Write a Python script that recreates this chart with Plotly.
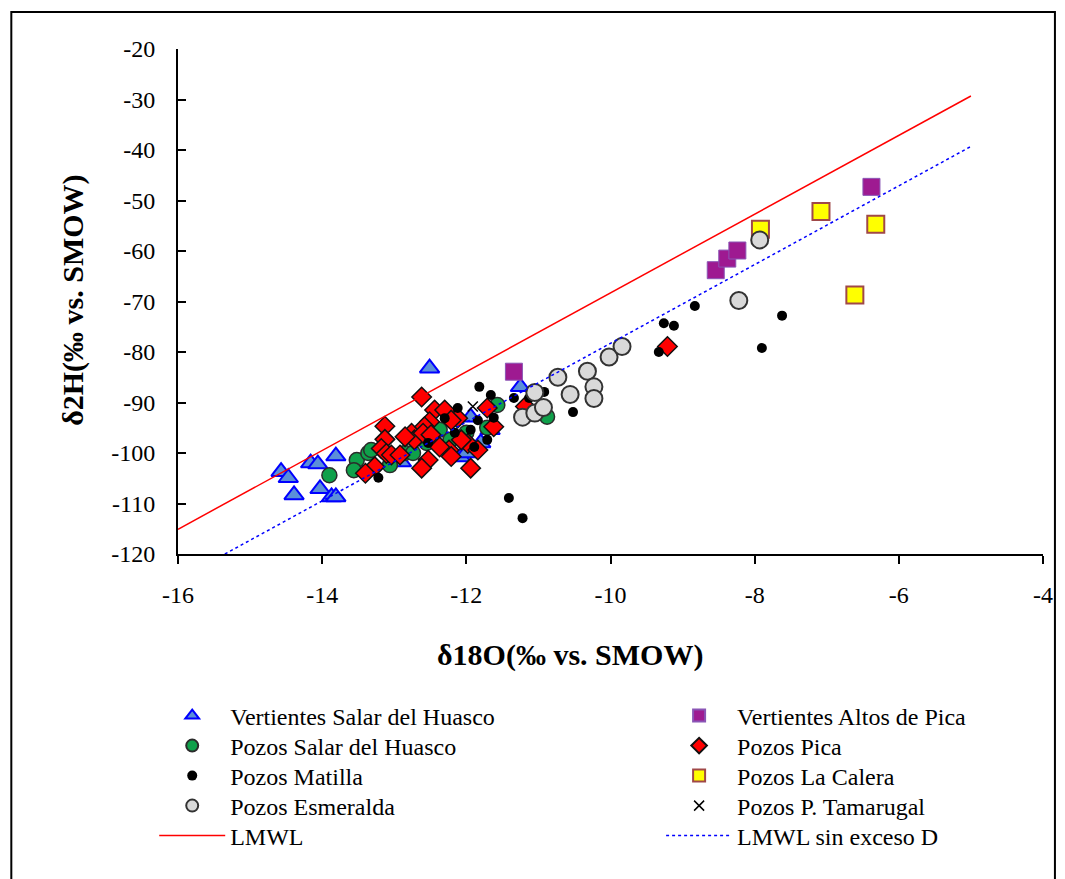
import plotly.graph_objects as go

# --- Vertientes Salar del Huasco ---
vsh_x = [-14.57, -14.47, -14.39, -14.16, -14.06, -13.81, -14.03, -13.87, -13.81,
         -12.51, -11.25, -12.9, -12.08, -12.0, -11.94, -11.67, -11.8]
vsh_y = [-103.7, -104.9, -108.3, -102.0, -102.2, -100.6, -107.1, -108.7, -108.7,
         -83.2, -86.9, -101.8, -100.8, -100.0, -92.9, -95.4, -98.0]

# --- Vertientes Altos de Pica ---
vap_x = [-11.34, -8.54, -8.38, -8.24, -6.38]
vap_y = [-83.9, -63.8, -61.5, -59.9, -47.3]

# --- Pozos Salar del Huasco ---
psh_x = [-13.9, -13.52, -13.56, -13.36, -13.32, -13.06, -12.85, -12.74, -12.55,
         -12.37, -12.22, -12.0, -11.71, -11.57, -10.88]
psh_y = [-104.4, -101.4, -103.4, -100.0, -99.4, -102.4, -100.0, -100.0, -98.0,
         -95.4, -97.4, -96.0, -95.0, -90.5, -92.8]

# --- Pozos Pica ---
pp_x = [-12.62, -13.13, -13.13, -13.18, -13.11, -13.04, -12.92, -13.27, -13.40,
        -12.76, -12.72, -12.85, -12.44, -12.30, -12.51, -12.58, -12.60, -12.49,
        -12.53, -12.62, -12.24, -12.21, -12.37, -11.98, -12.07, -11.94, -11.84,
        -11.71, -11.62, -12.12, -12.21, -11.18, -9.21]
pp_y = [-88.9, -94.7, -97.3, -99.1, -100.1, -100.4, -100.4, -102.7, -104.0,
        -96.1, -97.4, -96.8, -91.5, -91.5, -93.8, -94.8, -96.1, -96.4,
        -101.4, -103.0, -99.4, -100.7, -98.8, -98.1, -97.4, -103.0, -99.4,
        -91.1, -94.8, -93.1, -93.5, -90.8, -78.9]

# --- Pozos Matilla ---
pm_x = [-13.22, -11.82, -11.41, -11.22, -11.66, -12.12, -11.34, -12.53, -12.30,
        -12.16, -11.94, -11.84, -11.71, -11.62, -11.89, -11.13, -10.52, -10.92,
        -9.26, -9.12, -9.33, -8.83, -7.62, -7.90]
pm_y = [-104.9, -86.9, -108.9, -112.9, -88.5, -91.1, -89.1, -98.0, -93.1,
        -96.0, -95.4, -93.5, -97.4, -93.0, -98.8, -89.1, -91.9, -87.9,
        -74.3, -74.8, -80.0, -70.9, -72.8, -79.2]

# --- Pozos La Calera ---
plc_x = [-7.92, -7.08, -6.32, -6.61]
plc_y = [-55.7, -52.2, -54.7, -68.7]

# --- Pozos Esmeralda ---
pe_x = [-11.22, -11.05, -11.05, -10.93, -10.73, -10.56, -10.32, -10.23, -10.23,
        -10.02, -9.84, -8.22, -7.93]
pe_y = [-92.9, -88.0, -92.1, -91.0, -85.0, -88.4, -83.8, -86.9, -89.2,
        -81.0, -78.9, -69.8, -57.8]

# --- Pozos P. Tamarugal ---
ppt_x = [-11.91]
ppt_y = [-90.8]

# --- Meteoric water lines (end points) ---
lmwl_x = [-16.0, -5.0]
lmwl_y = [-115.1, -29.3]
lmwl_nd_x = [-15.35, -5.0]
lmwl_nd_y = [-120.0, -39.3]

# --- Axis ticks ---
x_ticks = [-16, -14, -12, -10, -8, -6, -4]
y_ticks = [-120, -110, -100, -90, -80, -70, -60, -50, -40, -30, -20]

FONT = "Liberation Serif, Times New Roman, serif"

fig = go.Figure()

# Series in plotting order; each one gets its own one-row legend so the
# two legend columns keep an even row pitch.
fig.add_trace(go.Scatter(x=vsh_x, y=vsh_y, mode="markers", name="Vertientes Salar del Huasco",
                         marker=dict(symbol="triangle-up", size=17, color="#5B8FD9",
                                     line=dict(color="#0000FF", width=2)),
                         legend="legend"))
fig.add_trace(go.Scatter(x=vap_x, y=vap_y, mode="markers", name="Vertientes Altos de Pica",
                         marker=dict(symbol="square", size=17, color="#9E1A91",
                                     line=dict(color="#8A55B5", width=1)),
                         legend="legend6"))
fig.add_trace(go.Scatter(x=psh_x, y=psh_y, mode="markers", name="Pozos Salar del Huasco",
                         marker=dict(symbol="circle", size=15, color="#0FA04A",
                                     line=dict(color="#2B2B2B", width=1.5)),
                         legend="legend2"))
fig.add_trace(go.Scatter(x=pp_x, y=pp_y, mode="markers", name="Pozos Pica",
                         marker=dict(symbol="diamond", size=15, color="#FF0000",
                                     line=dict(color="#111111", width=1.5)),
                         legend="legend7"))
fig.add_trace(go.Scatter(x=pm_x, y=pm_y, mode="markers", name="Pozos Matilla",
                         marker=dict(symbol="circle", size=10, color="#000000"),
                         legend="legend3"))
fig.add_trace(go.Scatter(x=plc_x, y=plc_y, mode="markers", name="Pozos La Calera",
                         marker=dict(symbol="square", size=17, color="#FFFF00",
                                     line=dict(color="#A04848", width=2)),
                         legend="legend8"))
fig.add_trace(go.Scatter(x=pe_x, y=pe_y, mode="markers", name="Pozos Esmeralda",
                         marker=dict(symbol="circle", size=17, color="#D9D9D9",
                                     line=dict(color="#333333", width=2)),
                         legend="legend4"))
fig.add_trace(go.Scatter(x=ppt_x, y=ppt_y, mode="markers", name="Pozos P. Tamarugal",
                         marker=dict(symbol="x-thin", size=10, color="#000000",
                                     line=dict(color="#000000", width=1.5)),
                         legend="legend9"))
fig.add_trace(go.Scatter(x=lmwl_x, y=lmwl_y, mode="lines", name="LMWL",
                         line=dict(color="#FF0000", width=1.5),
                         legend="legend5"))
fig.add_trace(go.Scatter(x=lmwl_nd_x, y=lmwl_nd_y, mode="lines", name="LMWL sin exceso D",
                         line=dict(color="#0000FF", width=1.5, dash="dot"),
                         legend="legend10"))

PLOT_TOP, PLOT_BOTTOM = 49, 554
row_px = [716, 746, 776, 806, 836]
row_y = [(PLOT_BOTTOM - r) / (PLOT_BOTTOM - PLOT_TOP) for r in row_px]
col_x = [-0.0275, 0.5585]


def legend_box(col, row, sizing):
    return dict(x=col_x[col], y=row_y[row], xanchor="left", yanchor="middle",
                font=dict(family=FONT, size=24, color="#000000"),
                bgcolor="rgba(0,0,0,0)", itemwidth=66, itemsizing=sizing,
                orientation="v", itemclick=False, itemdoubleclick=False)


fig.update_layout(
    width=1065, height=879,
    margin=dict(l=178, r=15, t=PLOT_TOP, b=879 - PLOT_BOTTOM),
    paper_bgcolor="white", plot_bgcolor="white",
    font=dict(family=FONT, size=24, color="#000000"),
    showlegend=True,
    legend=legend_box(0, 0, "constant"),
    legend2=legend_box(0, 1, "constant"),
    legend3=legend_box(0, 2, "trace"),
    legend4=legend_box(0, 3, "constant"),
    legend5=legend_box(0, 4, "trace"),
    legend6=legend_box(1, 0, "constant"),
    legend7=legend_box(1, 1, "constant"),
    legend8=legend_box(1, 2, "constant"),
    legend9=legend_box(1, 3, "trace"),
    legend10=legend_box(1, 4, "trace"),
    xaxis=dict(range=[-16, -4], tickvals=x_ticks, ticktext=[str(v) for v in x_ticks],
               showgrid=False, zeroline=False,
               showline=True, linecolor="#000000", linewidth=2,
               ticks="outside", ticklen=8, tickwidth=2, tickcolor="#000000",
               ticklabelstandoff=10, ticklabeloverflow="allow"),
    yaxis=dict(range=[-120, -20], tickvals=y_ticks, ticktext=[str(v) for v in y_ticks],
               showgrid=False, zeroline=False,
               showline=True, linecolor="#000000", linewidth=2,
               ticks="inside", ticklen=8, tickwidth=2, tickcolor="#000000",
               ticklabelstandoff=16),
    annotations=[
        dict(text="<b>δ18O(‰ vs. SMOW)</b>", xref="paper", yref="paper",
             x=0.453, y=-0.2, xanchor="center", yanchor="middle", showarrow=False,
             font=dict(family=FONT, size=30, color="#000000")),
        dict(text="<b>δ2H(‰ vs. SMOW)</b>", xref="paper", yref="paper",
             x=-0.1216, y=0.503, xanchor="center", yanchor="middle", showarrow=False,
             textangle=-90, font=dict(family=FONT, size=30, color="#000000")),
    ],
    shapes=[dict(type="rect", xref="paper", yref="paper",
                 x0=-0.1927, x1=1.0138, y0=-0.66, y1=1.0733,
                 line=dict(color="#000000", width=2), fillcolor="rgba(0,0,0,0)", layer="below")],
)

fig.write_html(
    "out.html",
    post_script="document.documentElement.style.overflow='hidden';"
                "document.body.style.margin='0';document.body.style.overflow='hidden';",
)
